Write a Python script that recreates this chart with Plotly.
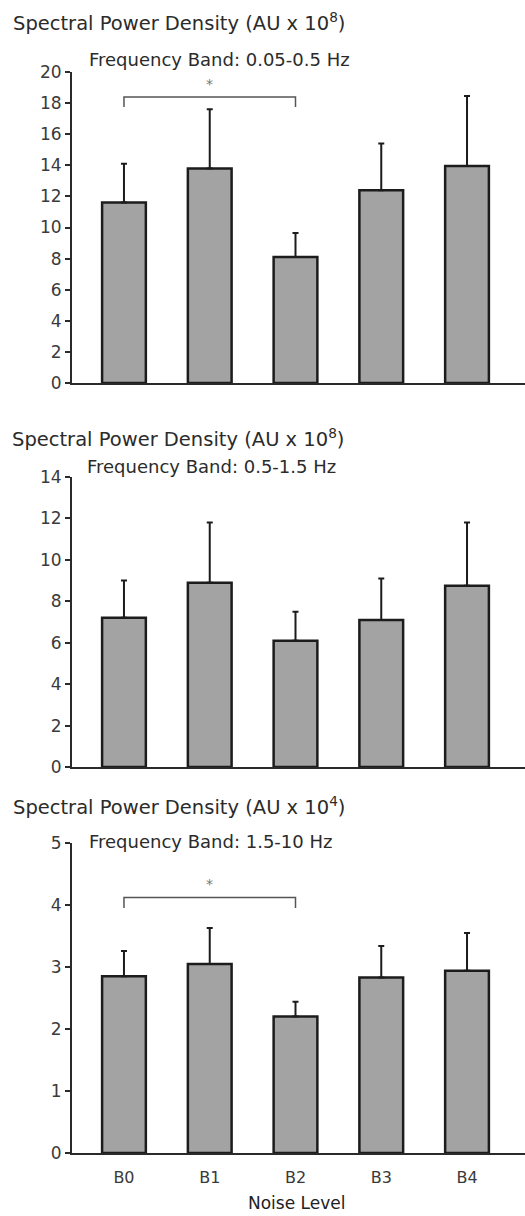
import plotly.graph_objects as go

# ---- data ----
categories = ["B0", "B1", "B2", "B3", "B4"]

band1_mean = [11.6, 13.8, 8.1, 12.4, 13.95]
band1_err = [2.5, 3.8, 1.55, 3.0, 4.5]

band2_mean = [7.2, 8.9, 6.1, 7.1, 8.75]
band2_err = [1.8, 2.9, 1.4, 2.0, 3.05]

band3_mean = [2.85, 3.05, 2.2, 2.83, 2.94]
band3_err = [0.41, 0.58, 0.24, 0.51, 0.61]

titles = ["Spectral Power Density (AU x 10<sup>8</sup>)",
          "Spectral Power Density (AU x 10<sup>8</sup>)",
          "Spectral Power Density (AU x 10<sup>4</sup>)"]
subtitles = ["Frequency Band: 0.05-0.5 Hz",
             "Frequency Band: 0.5-1.5 Hz",
             "Frequency Band: 1.5-10 Hz"]
y_max = [20, 14, 5]
y_dtick = [2, 2, 1]
# significance brackets: (panel index, from, to, bracket level, drop level, star level)
sig_brackets = [(0, "B0", "B2", 18.4, 17.75, 19.2),
                (2, "B0", "B2", 4.12, 3.95, 4.34)]
x_label = "Noise Level"

# ---- layout geometry (pixels) ----
W, H = 525, 1216
ML = 72
PW = W - ML
panel_px = [(72, 383), (477, 767), (843, 1153)]     # (top, bottom) of each plot area
title_px = [(11, 22, 87, 60), (10, 438, 85, 466), (11, 806, 87, 841)]

def py(p):
    return 1 - p / H

def px(p):
    return (p - ML) / PW

FONT = "DejaVu Sans"
TXT = "#2b2b2b"

fig = go.Figure()
means = [band1_mean, band2_mean, band3_mean]
errs = [band1_err, band2_err, band3_err]

for i in range(3):
    sx = "" if i == 0 else str(i + 1)
    fig.add_trace(go.Bar(
        x=categories, y=means[i],
        xaxis="x" + sx, yaxis="y" + sx,
        width=0.51,
        marker=dict(color="#a3a3a3", line=dict(color="#1c1c1c", width=2.5)),
        error_y=dict(type="data", symmetric=False, array=errs[i],
                     arrayminus=[0] * len(categories),
                     color="#1c1c1c", thickness=2, width=3),
        showlegend=False,
    ))
    top, bot = panel_px[i]
    last = (i == 2)
    fig.update_layout(**{
        "xaxis" + sx: dict(
            domain=[0, 1], anchor="y" + sx, type="category",
            range=[-0.606, 4.676],
            showline=True, linecolor="#2a2a2a", linewidth=2,
            showgrid=False, zeroline=False,
            showticklabels=last,
            ticks="outside" if last else "", ticklen=9,
            tickcolor="rgba(0,0,0,0)",
            tickfont=dict(family=FONT, size=16, color="#3a3a3a"),
        ),
        "yaxis" + sx: dict(
            domain=[py(bot), py(top)], anchor="x" + sx,
            range=[0, y_max[i]], dtick=y_dtick[i],
            showline=True, linecolor="#2a2a2a", linewidth=2,
            showgrid=False, zeroline=False,
            ticks="outside", ticklen=5, tickwidth=1.5, tickcolor="#2a2a2a",
            tickfont=dict(family=FONT, size=17, color="#3a3a3a"),
        ),
    })
    tx, ty, sxp, syp = title_px[i]
    fig.add_annotation(text=titles[i], xref="paper", yref="paper",
                       x=px(tx), y=py(ty), xanchor="left", yanchor="middle",
                       showarrow=False,
                       font=dict(family=FONT, size=19.5, color=TXT))
    fig.add_annotation(text=subtitles[i], xref="paper", yref="paper",
                       x=px(sxp), y=py(syp), xanchor="left", yanchor="middle",
                       showarrow=False,
                       font=dict(family=FONT, size=18, color=TXT))

for (pi, a, b, lvl, drop, star) in sig_brackets:
    sx = "" if pi == 0 else str(pi + 1)
    fig.add_trace(go.Scatter(
        x=[a, a, b, b], y=[drop, lvl, lvl, drop],
        xaxis="x" + sx, yaxis="y" + sx, mode="lines",
        line=dict(color="#555555", width=1.5), showlegend=False,
        hoverinfo="skip",
    ))
    ia, ib = categories.index(a), categories.index(b)
    fig.add_annotation(text="*", xref="x" + sx, yref="y" + sx,
                       x=(ia + ib) / 2, y=star, showarrow=False,
                       font=dict(family=FONT, size=14, color="#777777"))

fig.add_annotation(text=x_label, xref="paper", yref="paper",
                   x=px(296), y=py(1203), xanchor="center", yanchor="middle",
                   showarrow=False,
                   font=dict(family=FONT, size=17, color="#222222"))

fig.update_layout(
    width=W, height=H,
    margin=dict(l=ML, r=0, t=0, b=0, autoexpand=False),
    paper_bgcolor="white", plot_bgcolor="white",
    bargap=0.49,
)

fig.write_html("out.html", config={"displayModeBar": False},
               post_script="document.body.style.margin='0';document.body.style.overflow='hidden';")
